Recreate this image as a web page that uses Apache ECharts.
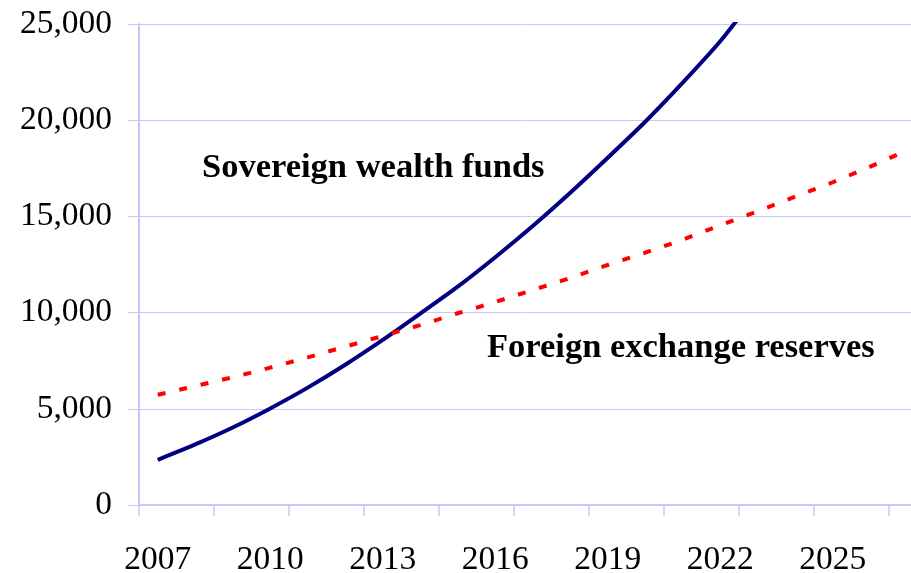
<!DOCTYPE html>
<html>
<head>
<meta charset="utf-8">
<script src="https://cdn.jsdelivr.net/npm/echarts@6/dist/echarts.min.js"></script>
<style>
html,body{margin:0;padding:0;background:#fff;}
#chart{width:911px;height:573px;}
</style>
</head>
<body>
<div id="chart"></div>
<script>
var years = ['2007','2008','2009','2010','2011','2012','2013','2014','2015','2016','2017',
             '2018','2019','2020','2021','2022','2023','2024','2025','2026','2027'];
var sovereignWealthFunds = [2350, 3150, 4030, 5020, 6100, 7290, 8580, 9950, 11350, 12880, 14500,
                            16230, 18050, 19920, 21950, 24100, 26600, null, null, null, null];
var foreignExchangeReserves = [5730, 6185, 6635, 7140, 7675, 8230, 8785, 9350, 9965, 10550, 11175,
                               11800, 12475, 13115, 13790, 14540, 15265, 16025, 16775, 17585, 18450];
var yTicks = [0, 5000, 10000, 15000, 20000, 25000];
var seriesNames = ['Sovereign wealth funds', 'Foreign exchange reserves'];

var FONT = 'Liberation Serif, Times New Roman, serif';
var AXIS_COLOR = '#c8c8fa';

var chart = echarts.init(document.getElementById('chart'), null, {renderer: 'canvas'});
chart.setOption({
  animation: false,
  backgroundColor: '#ffffff',
  grid: {left: 139, top: 24, width: 787.5, height: 481, containLabel: false, outerBoundsMode: 'none'},
  xAxis: {
    type: 'category',
    data: years,
    boundaryGap: true,
    axisLine: {show: true, lineStyle: {color: AXIS_COLOR, width: 2}},
    axisTick: {show: true, interval: 1, length: 11, inside: false, lineStyle: {color: AXIS_COLOR, width: 1.5}},
    axisLabel: {interval: 2, margin: 38, color: '#000', fontFamily: FONT, fontSize: 33.5},
    splitLine: {show: false}
  },
  yAxis: {
    type: 'value',
    min: yTicks[0],
    max: yTicks[yTicks.length - 1],
    interval: yTicks[1] - yTicks[0],
    axisLine: {show: true, lineStyle: {color: AXIS_COLOR, width: 2}},
    axisTick: {show: true, length: 11, inside: false, lineStyle: {color: AXIS_COLOR, width: 1}},
    axisLabel: {
      margin: 27, color: '#000', fontFamily: FONT, fontSize: 33.5,
      formatter: function (v) { return v.toLocaleString('en-US'); }
    },
    splitLine: {show: true, lineStyle: {color: AXIS_COLOR, width: 1}}
  },
  series: [
    {
      name: seriesNames[0],
      type: 'line',
      data: sovereignWealthFunds,
      showSymbol: false,
      symbol: 'none',
      smooth: 0.2,
      clip: true,
      connectNulls: false,
      lineStyle: {color: '#000080', width: 4, type: 'solid'}
    },
    {
      name: seriesNames[1],
      type: 'line',
      data: foreignExchangeReserves,
      showSymbol: false,
      symbol: 'none',
      clip: true,
      lineStyle: {color: '#ff0000', width: 4, type: [8, 14]}
    }
  ],
  graphic: [
    {
      type: 'text', left: 202, top: 151,
      style: {text: seriesNames[0], fill: '#000', font: 'bold 34.5px ' + FONT}
    },
    {
      type: 'text', left: 487, top: 331,
      style: {text: seriesNames[1], fill: '#000', font: 'bold 34.5px ' + FONT}
    }
  ]
});
</script>
</body>
</html>
